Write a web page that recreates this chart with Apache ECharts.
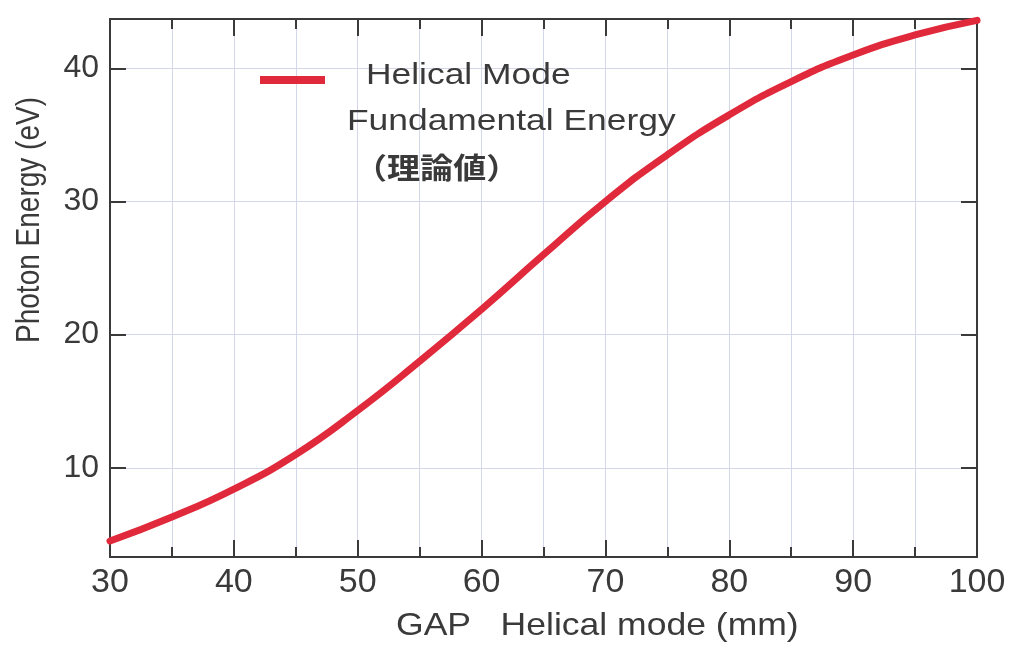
<!DOCTYPE html>
<html>
<head>
<meta charset="utf-8">
<title>Helical Mode Fundamental Energy</title>
<script src="https://cdn.jsdelivr.net/npm/echarts@6/dist/echarts.min.js"></script>
<style>
  html, body { margin: 0; padding: 0; background: #ffffff; }
  #chart { width: 1013px; height: 645px; }
</style>
</head>
<body>
<div id="chart"></div>
<script>
// Gap of the undulator in helical mode (mm)
const gapMM = [30, 35, 40, 45, 50, 55, 60, 65, 70, 75, 80, 85, 90, 95, 100];
// Theoretical fundamental photon energy (eV)
const photonEV = [4.5, 6.3, 8.4, 11.0, 14.3, 18.0, 21.9, 26.0, 30.0, 33.5, 36.5, 39.0, 41.0, 42.5, 43.6];

// Labelled tick values
const xTickLabels = [30, 40, 50, 60, 70, 80, 90, 100];
const yTickLabels = [10, 20, 30, 40];

const seriesName = 'Helical Mode';
const legendLines = ['Helical Mode', 'Fundamental Energy', '（理論値）'];
const xTitle = 'GAP   Helical mode (mm)';
const yTitle = 'Photon Energy (eV)';

const INK = '#3a3a3a';
const GRID = '#d4d6ea';
const RED = '#e02a3c';
const FONT = '"Liberation Sans", Arial, Helvetica, sans-serif';

const chart = echarts.init(document.getElementById('chart'), null, { renderer: 'canvas' });

function isLabelled(v, list) {
  const r = Math.round(v);
  return Math.abs(v - r) < 1e-6 && list.includes(r);
}

function xAxisCfg(position, showLabels) {
  return {
    type: 'value',
    position: position,
    min: 30,
    max: 100,
    interval: 10,
    axisLine: { show: true, onZero: false, lineStyle: { color: INK, width: 2 } },
    axisTick: { show: true, inside: true, length: 17, lineStyle: { color: INK, width: 2 } },
    minorTick: { show: true, splitNumber: 2, length: 10, lineStyle: { color: INK, width: 2 } },
    splitLine: { show: showLabels, lineStyle: { color: GRID, width: 1 } },
    minorSplitLine: { show: showLabels, lineStyle: { color: GRID, width: 1 } },
    axisLabel: {
      show: showLabels,
      margin: 9,
      fontSize: 34,
      fontFamily: FONT,
      color: INK,
      showMinLabel: true,
      showMaxLabel: true,
      formatter: v => (isLabelled(v, xTickLabels) ? String(Math.round(v)) : '')
    }
  };
}

function yAxisCfg(position, showLabels) {
  return {
    type: 'value',
    position: position,
    min: 3.3,
    max: 43.7,
    splitNumber: 4,
    axisLine: { show: true, onZero: false, lineStyle: { color: INK, width: 2 } },
    axisTick: { show: true, inside: true, length: 16, lineStyle: { color: INK, width: 2 } },
    splitLine: { show: showLabels, lineStyle: { color: GRID, width: 1 } },
    axisLabel: {
      show: showLabels,
      margin: 11,
      fontSize: 32,
      fontFamily: FONT,
      color: INK,
      formatter: v => (isLabelled(v, yTickLabels) ? String(Math.round(v)) : '')
    }
  };
}

function label(text, x, y, font, extra) {
  return Object.assign({
    type: 'text', x: x, y: y, z: 100,
    style: { text: text, font: font, fill: INK, textAlign: 'left', textVerticalAlign: 'middle', align: 'left', verticalAlign: 'middle' }
  }, extra || {});
}

const option = {
  backgroundColor: '#ffffff',
  animation: false,
  grid: { left: 110, right: 36, top: 19, bottom: 88, containLabel: false },
  xAxis: [xAxisCfg('bottom', true), xAxisCfg('top', false)],
  yAxis: [yAxisCfg('left', true), yAxisCfg('right', false)],
  legend: {
    data: [seriesName],
    left: 260,
    top: 76,
    padding: 0,
    icon: 'rect',
    itemWidth: 65,
    itemHeight: 8,
    itemStyle: { color: RED },
    formatter: () => '',
    textStyle: { fontSize: 1 },
    selectedMode: false
  },
  series: [{
    name: seriesName,
    type: 'line',
    xAxisIndex: 0,
    yAxisIndex: 0,
    data: gapMM.map((g, i) => [g, photonEV[i]]),
    smooth: 0.5,
    showSymbol: false,
    symbol: 'none',
    itemStyle: { color: RED },
    lineStyle: { color: RED, width: 7, cap: 'round' },
    z: 5
  }],
  graphic: [
    label(legendLines[0], 366, 76, '30px ' + FONT, { scaleX: 1.18 }),
    label(legendLines[1], 347, 122, '30px ' + FONT, { scaleX: 1.18 }),
    label(legendLines[2], 354, 168, 'bold 29px "Noto Sans CJK JP", sans-serif', { scaleX: 1.14 }),
    label(xTitle, 396, 626, '32px ' + FONT, { scaleX: 1.11 }),
    {
      type: 'text', x: 30, y: 220, z: 100, rotation: Math.PI / 2, scaleY: 1.2,
      style: { text: yTitle, font: '28px ' + FONT, fill: INK, textAlign: 'center', textVerticalAlign: 'middle', align: 'center', verticalAlign: 'middle' }
    }
  ]
};

chart.setOption(option);
</script>
</body>
</html>
